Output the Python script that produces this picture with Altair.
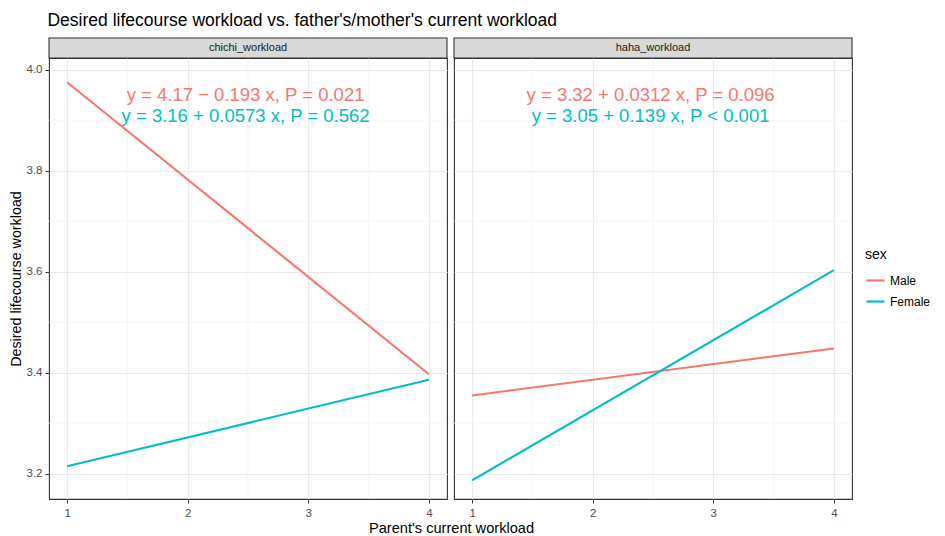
import altair as alt
import pandas as pd

FONT = "Liberation Sans"

panels = ["chichi_workload", "haha_workload"]
sexes = ["Male", "Female"]
colors = ["#F8766D", "#00BFC4"]

x_ends = [1, 4]
chichi_male = [3.975, 3.397]
chichi_female = [3.215, 3.386]
haha_male = [3.355, 3.448]
haha_female = [3.187, 3.603]

chichi_labels = ["y = 4.17 − 0.193 x,  P = 0.021", "y = 3.16 + 0.0573 x,  P = 0.562"]
haha_labels = ["y = 3.32 + 0.0312 x,  P = 0.096", "y = 3.05 + 0.139 x,  P < 0.001"]
label_x = 2.48
label_y = [3.950, 3.909]

x_ticks = [1, 2, 3, 4]
x_minor = [1.5, 2.5, 3.5]
y_ticks = [3.2, 3.4, 3.6, 3.8, 4.0]
y_minor = [3.3, 3.5, 3.7, 3.9]

series = {
    ("chichi_workload", "Male"): chichi_male,
    ("chichi_workload", "Female"): chichi_female,
    ("haha_workload", "Male"): haha_male,
    ("haha_workload", "Female"): haha_female,
}
rows = []
for (p, s), ys in series.items():
    for xv, yv in zip(x_ends, ys):
        rows.append({"panel": p, "sex": s, "x": xv, "y": yv})
lines_df = pd.DataFrame(rows)

lab_rows = []
for p, labs in zip(panels, [chichi_labels, haha_labels]):
    for s, c, lab, ly in zip(sexes, colors, labs, label_y):
        lab_rows.append({"panel": p, "sex": s, "color": c, "label": lab, "x": label_x, "y": ly})
labels_df = pd.DataFrame(lab_rows)

W, H = 398, 441
STRIP = 20
xscale = alt.Scale(domain=[0.85, 4.15], nice=False, zero=False)
yscale = alt.Scale(domain=[3.15, 4.023], nice=False, zero=False)
cscale = alt.Scale(domain=sexes, range=colors)


def make_panel(name, first):
    xaxis_kw = dict(values=x_ticks, grid=True, gridColor="#EBEBEB", gridWidth=1.1,
                    domain=False, ticks=True, tickColor="#333333", tickSize=4,
                    labelColor="#4D4D4D", labelFontSize=11.5, labelFont=FONT, labelPadding=4,
                    format="d")
    if first:
        xaxis = alt.Axis(title="Parent's current workload", titleFont=FONT, titleFontSize=14.6,
                         titleFontWeight="normal", titleColor="black",
                         titleX=W + 4, titleY=21, titleAlign="center", titleBaseline="top",
                         **xaxis_kw)
        yaxis = alt.Axis(values=y_ticks, format=".1f", grid=True, gridColor="#EBEBEB", gridWidth=1.1,
                         domain=False, ticks=True, tickColor="#333333", tickSize=4,
                         labelColor="#4D4D4D", labelFontSize=11.5, labelFont=FONT, labelPadding=3,
                         title="Desired lifecourse workload", titleFont=FONT, titleFontSize=14.3,
                         titleFontWeight="normal", titleColor="black", titlePadding=3)
    else:
        xaxis = alt.Axis(title=None, **xaxis_kw)
        yaxis = alt.Axis(values=y_ticks, grid=True, gridColor="#EBEBEB", gridWidth=1.1,
                         domain=False, ticks=False, labels=False, title=None)

    ldf = lines_df[lines_df.panel == name]
    tdf = labels_df[labels_df.panel == name]

    vminor = alt.Chart(pd.DataFrame({"x": x_minor})).mark_rule(color="#F2F2F2", strokeWidth=0.7).encode(
        x=alt.X("x:Q", scale=xscale, axis=xaxis))
    hminor = alt.Chart(pd.DataFrame({"y": y_minor})).mark_rule(color="#F2F2F2", strokeWidth=0.7).encode(
        y=alt.Y("y:Q", scale=yscale, axis=yaxis))
    lines = alt.Chart(ldf).mark_line(strokeWidth=2.1).encode(
        x=alt.X("x:Q", scale=xscale, axis=xaxis),
        y=alt.Y("y:Q", scale=yscale, axis=yaxis),
        color=alt.Color("sex:N", scale=cscale, sort=sexes,
                        legend=alt.Legend(title="sex", orient="none", legendX=816, legendY=190,
                                          symbolType="stroke", symbolSize=330, symbolStrokeWidth=2.2,
                                          titleFont=FONT, titleFontSize=14, titleFontWeight="normal",
                                          titleColor="black", labelFont=FONT, labelFontSize=12,
                                          labelColor="black", rowPadding=4, titlePadding=8)),
    )
    texts = alt.Chart(tdf).mark_text(font=FONT, fontSize=18.5, align="center", baseline="middle").encode(
        x=alt.X("x:Q", scale=xscale),
        y=alt.Y("y:Q", scale=yscale),
        text="label:N",
        color=alt.Color("color:N", scale=None),
    )
    strip_bg = alt.Chart(pd.DataFrame({"label": [name]})).mark_rect(
        fill="#D9D9D9", stroke="#333333", strokeWidth=1.1).encode(
        x=alt.value(0), x2=alt.value(W), y=alt.value(-STRIP), y2=alt.value(0))
    strip_txt = alt.Chart(pd.DataFrame({"label": [name]})).mark_text(
        font=FONT, fontSize=11, color="#1A1A1A", align="center", baseline="middle").encode(
        x=alt.value(W / 2), y=alt.value(-STRIP / 2), text="label:N")
    return alt.layer(vminor, hminor, lines, texts, strip_bg, strip_txt).properties(width=W, height=H)


chart = alt.hconcat(make_panel(panels[0], True), make_panel(panels[1], False),
                    spacing=7, bounds="flush").properties(
    title=alt.TitleParams("Desired lifecourse workload vs. father's/mother's current workload",
                          anchor="start", font=FONT, fontSize=17.5, fontWeight="normal",
                          color="black", dx=39, offset=7),
    padding={"left": 0, "top": 4, "right": 0, "bottom": 0},
).configure(background="white").configure_view(stroke="#333333", strokeWidth=1.1)

chart.save("out.html", embed_options={"renderer": "svg", "actions": False})
